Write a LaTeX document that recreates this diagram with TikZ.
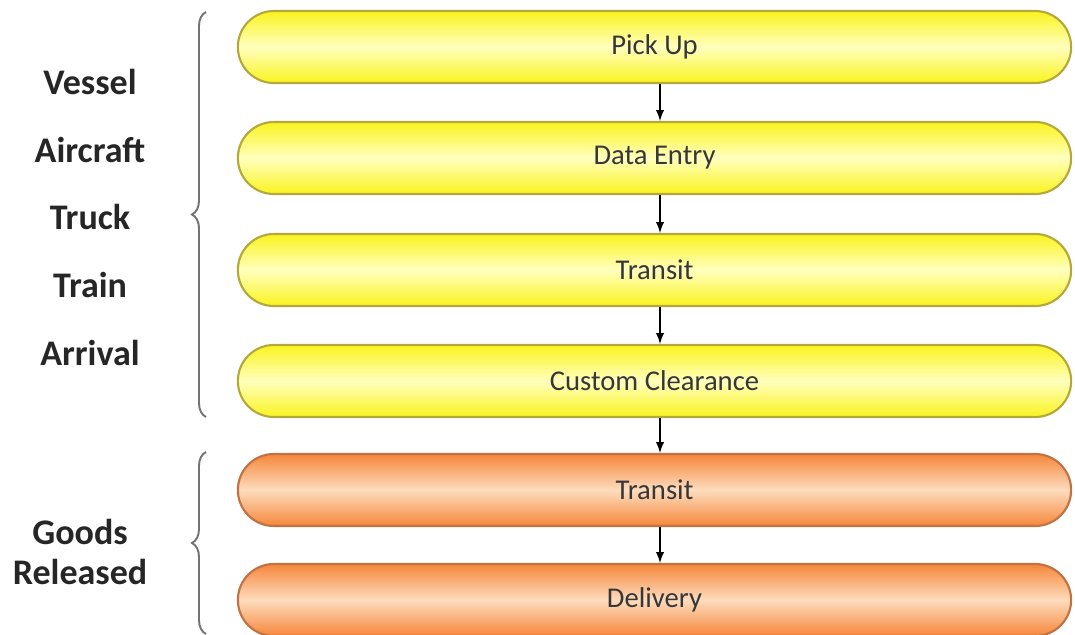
\documentclass[tikz,border=0pt]{standalone}
\usepackage{fontspec}
\setmainfont{Carlito}
\usepackage{xcolor}
\usepackage{tikz}
\usetikzlibrary{shapes.misc,arrows,decorations.pathreplacing}
\definecolor{ylwbase}{RGB}{250,244,30}
\definecolor{ylwlight}{RGB}{255,255,190}
\definecolor{ylwedge}{RGB}{180,168,60}
\definecolor{orgbase}{RGB}{246,134,58}
\definecolor{orglight}{RGB}{253,220,190}
\definecolor{orgedge}{RGB}{192,114,66}
\definecolor{txtgray}{RGB}{55,55,55}
\tikzstyle{stagebox}=[rounded rectangle,minimum width=16.9cm,minimum height=1.44cm,line width=1.2pt,font=\fontsize{16.3}{19}\selectfont,text=txtgray]
\tikzstyle{yellowbox}=[stagebox,draw=ylwedge,top color=ylwbase,bottom color=ylwbase,middle color=ylwlight]
\tikzstyle{orangebox}=[stagebox,draw=orgedge,top color=orgbase,bottom color=orgbase,middle color=orglight]
\tikzstyle{sidelabel}=[font=\fontsize{20.5}{23}\selectfont\bfseries,text=black!85,align=center]
\tikzstyle{groupbrace}=[draw=black!55,line width=1.1pt,decorate,decoration={brace,amplitude=0.28cm}]
\tikzstyle{flow}=[-latex,line width=1.1pt]

\begin{document}
\begin{tikzpicture}
\useasboundingbox (0,0) rectangle (21.5,-12.7);
\node[yellowbox] (pick) at (13.09,-0.94) {Pick Up};
\node[yellowbox] (data) at (13.09,-3.16) {Data Entry};
\node[yellowbox] (transa) at (13.09,-5.40) {Transit};
\node[yellowbox] (custom) at (13.09,-7.62) {Custom Clearance};
\node[orangebox] (transb) at (13.09,-9.80) {Transit};
\node[orangebox] (deliv) at (13.09,-12.0) {Delivery};
\draw[flow] ([xshift=0.11cm]pick.south) -- ([xshift=0.11cm]data.north);
\draw[flow] ([xshift=0.11cm]data.south) -- ([xshift=0.11cm]transa.north);
\draw[flow] ([xshift=0.11cm]transa.south) -- ([xshift=0.11cm]custom.north);
\draw[flow] ([xshift=0.11cm]custom.south) -- ([xshift=0.11cm]transb.north);
\draw[flow] ([xshift=0.11cm]transb.south) -- ([xshift=0.11cm]deliv.north);
\node[sidelabel] (vessel) at (1.8,-1.63) {Vessel};
\node[sidelabel] (aircraft) at (1.8,-2.99) {Aircraft};
\node[sidelabel] (truck) at (1.8,-4.34) {Truck};
\node[sidelabel] (train) at (1.8,-5.70) {Train};
\node[sidelabel] (arrival) at (1.8,-7.06) {Arrival};
\node[sidelabel] (goods) at (1.6,-11.04) {Goods\\Released};
\coordinate (topA) at (4.12,-0.24);
\coordinate (botA) at (4.12,-8.34);
\coordinate (topB) at (4.12,-9.04);
\coordinate (botB) at (4.12,-12.68);
\draw[groupbrace] (botA) -- (topA);
\draw[groupbrace] (botB) -- (topB);
\end{tikzpicture}
\end{document}
